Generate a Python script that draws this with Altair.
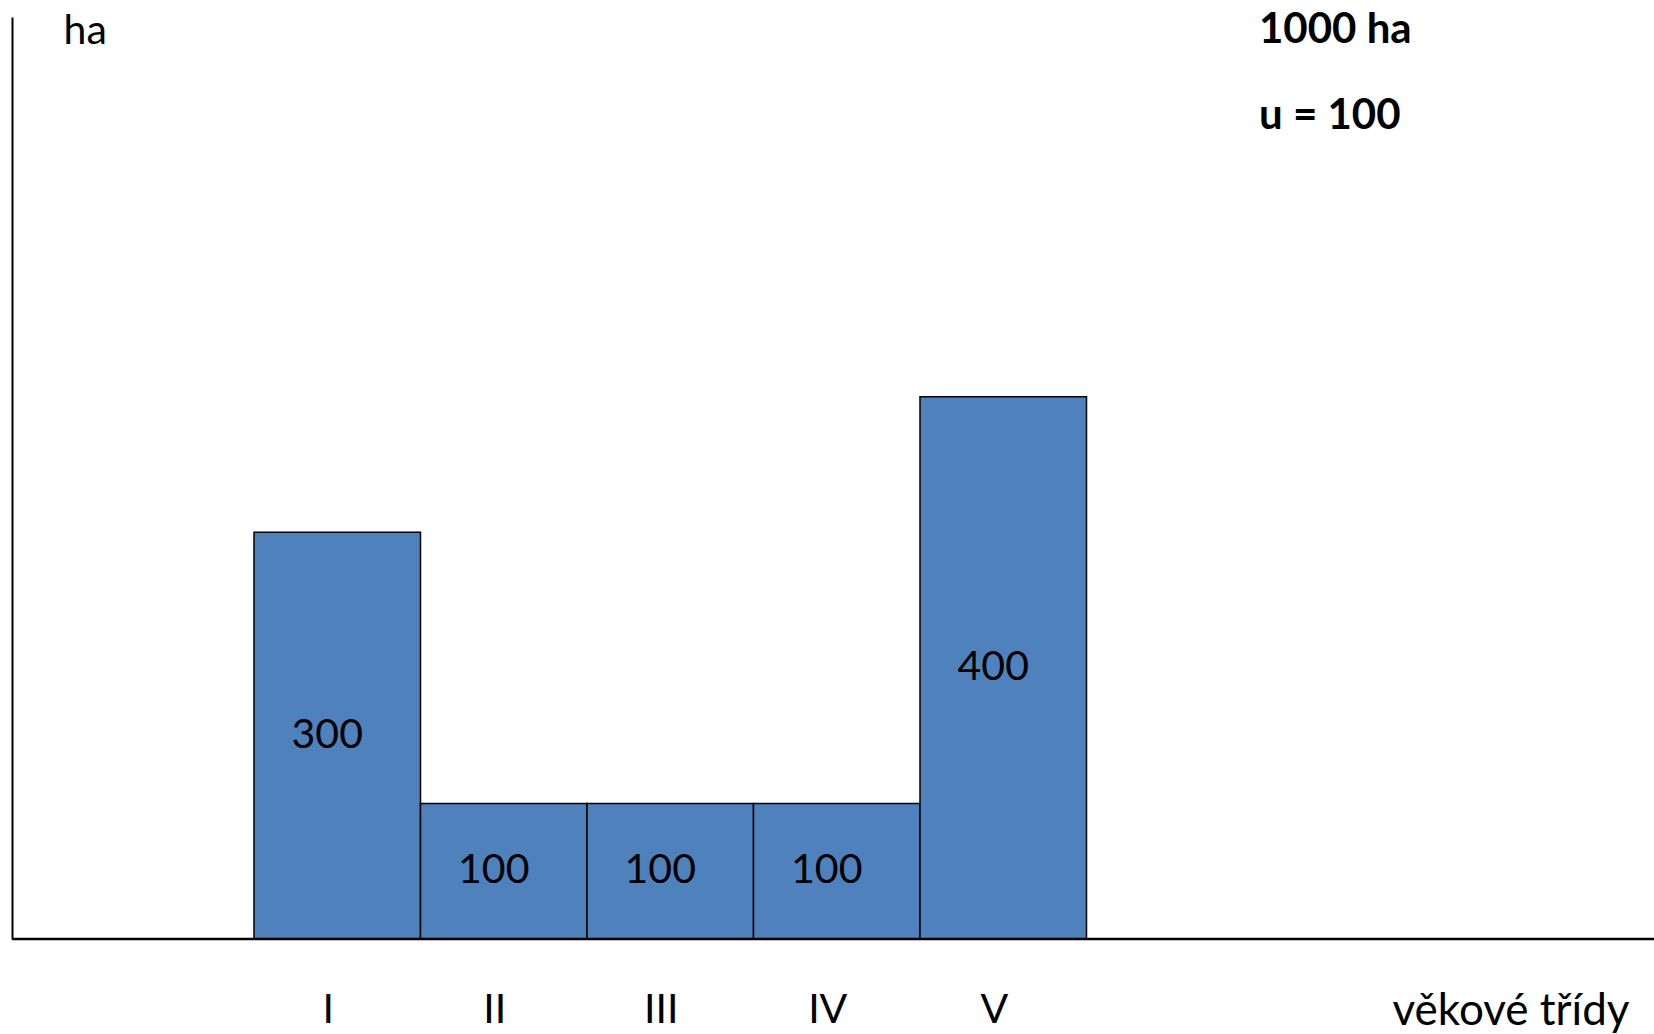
import altair as alt
import pandas as pd

# Area of forest stands per age class (ha)
classes = ["I", "II", "III", "IV", "V"]
areas = [300, 100, 100, 100, 400]

total_note = "1000 ha"
rotation_note = "u = 100"

FONT = "Lato"
BAR_BLUE = "#4F81BD"
TEXT_SIZE = 41
PLOT_W = 1642
PLOT_H = 922

df = pd.DataFrame({"trida": classes, "plocha": areas})

x_enc = alt.X(
    "trida:N",
    sort=classes,
    scale=alt.Scale(range=[242, 1074.5], paddingInner=0, paddingOuter=0),
    axis=alt.Axis(
        title="věkové třídy",
        titleAngle=0,
        titleX=1380,
        titleY=85,
        titleAlign="left",
        titleBaseline="alphabetic",
        titleFont=FONT,
        titleFontSize=44,
        titleFontWeight="normal",
        titleColor="black",
        labelFont=FONT,
        labelFontSize=TEXT_SIZE,
        labelColor="black",
        labelAngle=0,
        labelBaseline="middle",
        labelPadding=71,
        labelOffset=-9,
        ticks=False,
        tickSize=0,
        grid=False,
        domain=False,
    ),
)

y_enc = alt.Y(
    "plocha:Q",
    scale=alt.Scale(domain=[0, 680], nice=False),
    axis=alt.Axis(
        title="ha",
        titleAngle=0,
        titleX=51,
        titleY=26,
        titleAlign="left",
        titleBaseline="alphabetic",
        titleFont=FONT,
        titleFontSize=TEXT_SIZE,
        titleFontWeight="normal",
        titleColor="black",
        labels=False,
        ticks=False,
        tickSize=0,
        grid=False,
        domainColor="black",
        domainWidth=2,
    ),
)

base = alt.Chart(df)

bars = base.mark_bar(
    color=BAR_BLUE, stroke="black", strokeWidth=1.5
).encode(x=x_enc, y=y_enc)

values = base.transform_calculate(
    mid="datum.plocha / 2"
).mark_text(
    font=FONT, fontSize=TEXT_SIZE, color="black", baseline="middle", dx=-10
).encode(
    x=alt.X("trida:N", sort=classes),
    y=alt.Y("mid:Q"),
    text=alt.Text("plocha:Q"),
)

# horizontal axis line running across the whole plot width
baseline = alt.Chart(pd.DataFrame({"k": [0]})).mark_rule(
    color="black", strokeWidth=2.5
).encode(x=alt.value(0), x2=alt.value(PLOT_W), y=alt.value(PLOT_H))

total = alt.Chart(pd.DataFrame({"t": [total_note]})).mark_text(
    font=FONT, fontSize=42, fontWeight="bold", color="black",
    align="left", baseline="alphabetic",
).encode(x=alt.value(1247), y=alt.value(26), text="t:N")

rotation = alt.Chart(pd.DataFrame({"t": [rotation_note]})).mark_text(
    font=FONT, fontSize=42, fontWeight="bold", color="black",
    align="left", baseline="alphabetic",
).encode(x=alt.value(1247), y=alt.value(112), text="t:N")

chart = alt.layer(bars, values, baseline, total, rotation).properties(
    width=PLOT_W,
    height=PLOT_H,
    autosize=alt.AutoSizeParams(type="none"),
    padding={"left": 12, "top": 17, "right": 0, "bottom": 95},
    background="white",
).configure_view(stroke=None)

chart.save("out.html", embed_options={"renderer": "svg", "actions": False})
